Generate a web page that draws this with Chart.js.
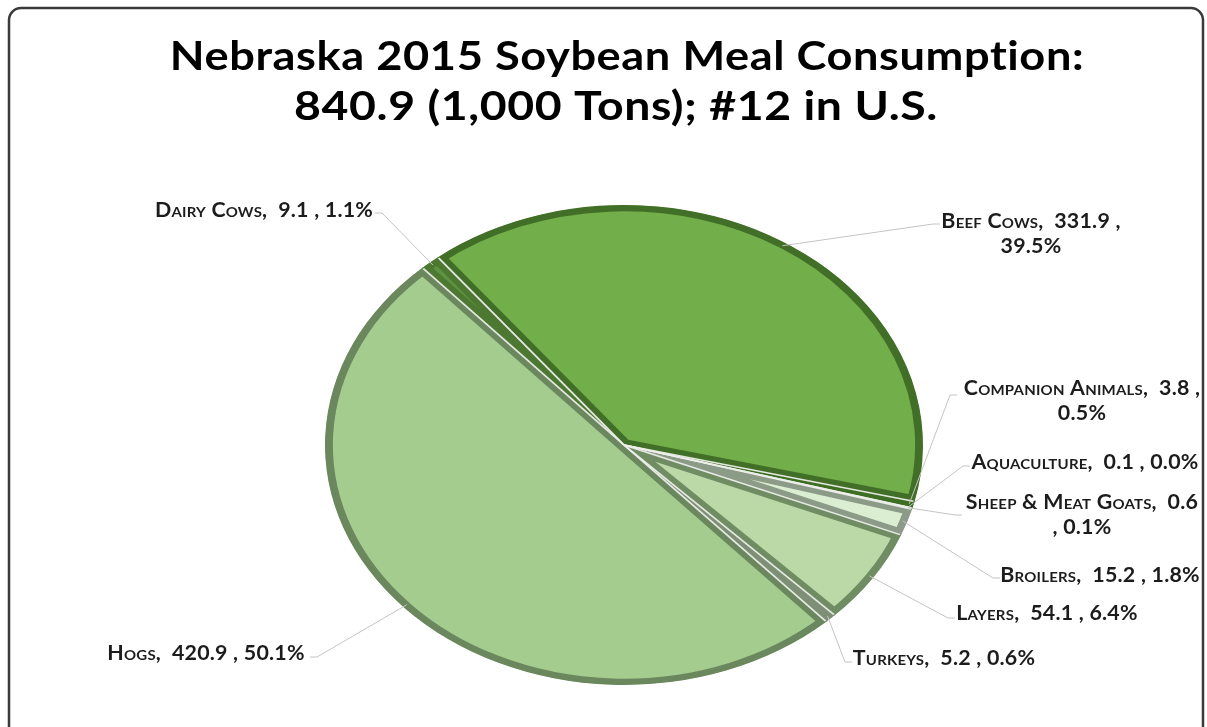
<!DOCTYPE html>
<html>
<head>
<meta charset="utf-8">
<script src="https://cdn.jsdelivr.net/npm/chart.js@4.4.1/dist/chart.umd.min.js"></script>
<style>
  html, body { margin: 0; padding: 0; background: #ffffff; overflow: hidden; }
  canvas { display: block; }
</style>
</head>
<body>
<canvas id="chart" width="1207" height="727" style="width:1207px;height:727px"></canvas>
<script>
// ---- data ----
const titleLines = ['Nebraska 2015 Soybean Meal Consumption:', '840.9 (1,000 Tons); #12 in U.S.'];
const categories = ['Beef Cows', 'Companion Animals', 'Aquaculture', 'Sheep & Meat Goats',
                    'Broilers', 'Layers', 'Turkeys', 'Hogs', 'Dairy Cows'];
const consumption = [331.9, 3.8, 0.1, 0.6, 15.2, 54.1, 5.2, 420.9, 9.1]; // 1,000 tons

// ---- styling ----
const sliceFill   = ['#72AE4A', '#4F8A2E', '#A9D18E', '#C5E0B4', '#DCEED2', '#BAD9A6', '#9FBA8E', '#A5CC8F', '#5E9140'];
const sliceBevel  = ['#426F27', '#3E6E22', '#7E9A70', '#8C9C86', '#8C9B87', '#6F8C63', '#7D8F74', '#6A875D', '#4C7832'];
const stretchX = 299 / 240;      // pie drawn as an ellipse

// label placement: text centre, first row, line break style, leader end point
const labelLayout = [
  { cx: 1031, y: 222, br: 'pct',   ex: 940,  ey: 224 },  // Beef Cows
  { cx: 1082, y: 389, br: 'pct',   ex: 957,  ey: 395 },  // Companion Animals
  { cx: 1085, y: 463, br: null,    ex: 970,  ey: 466 },  // Aquaculture
  { cx: 1082, y: 503, br: 'comma', ex: 962,  ey: 515 },  // Sheep & Meat Goats
  { cx: 1100, y: 576, br: null,    ex: 1000, ey: 578 },  // Broilers
  { cx: 1047, y: 614, br: null,    ex: 955,  ey: 618 },  // Layers
  { cx: 944,  y: 659, br: null,    ex: 852,  ey: 662 },  // Turkeys
  { cx: 206,  y: 654, br: null,    ex: 310,  ey: 657 },  // Hogs
  { cx: 264,  y: 211, br: null,    ex: 375,  ey: 213 }   // Dairy Cows
];

const total = consumption.reduce((a, b) => a + b, 0);

function drawText(ctx, str, x, y, font, color, sx, spacing) {
  ctx.save();
  ctx.font = font;
  ctx.fillStyle = color;
  ctx.textAlign = 'center';
  ctx.textBaseline = 'middle';
  if ('letterSpacing' in ctx) ctx.letterSpacing = spacing || '0px';
  ctx.translate(x, y);
  ctx.scale(sx, 1);
  ctx.fillText(str, 0, 0);
  ctx.restore();
}

// rounded outer frame
const framePlugin = {
  id: 'frame',
  beforeDraw(chart) {
    const ctx = chart.ctx;
    const x0 = 9, y0 = 8, x1 = 1203, y1 = 740, r = 12;
    ctx.save();
    ctx.beginPath();
    ctx.moveTo(x0 + r, y0);
    ctx.lineTo(x1 - r, y0);
    ctx.arcTo(x1, y0, x1, y0 + r, r);
    ctx.lineTo(x1, y1 - r);
    ctx.arcTo(x1, y1, x1 - r, y1, r);
    ctx.lineTo(x0 + r, y1);
    ctx.arcTo(x0, y1, x0, y1 - r, r);
    ctx.lineTo(x0, y0 + r);
    ctx.arcTo(x0, y0, x0 + r, y0, r);
    ctx.closePath();
    ctx.lineWidth = 2.5;
    ctx.strokeStyle = '#3a3a3a';
    ctx.stroke();
    ctx.restore();
  }
};

// squash the round pie into an ellipse and add light seams between slices
const ellipsePlugin = {
  id: 'ellipse',
  beforeDatasetsDraw(chart) {
    const a = chart.getDatasetMeta(0).data[0];
    const ctx = chart.ctx;
    ctx.save();
    ctx.translate(a.x, a.y);
    ctx.scale(stretchX, 1);
    ctx.translate(-a.x, -a.y);
  },
  afterDatasetsDraw(chart) {
    const ctx = chart.ctx;
    const arcs = chart.getDatasetMeta(0).data;
    ctx.lineWidth = 1.6;
    ctx.strokeStyle = 'rgba(236,238,234,0.95)';
    arcs.forEach(arc => {
      const r = arc.outerRadius - 1;
      ctx.beginPath();
      ctx.moveTo(arc.x, arc.y);
      ctx.lineTo(arc.x + Math.cos(arc.startAngle) * r, arc.y + Math.sin(arc.startAngle) * r);
      ctx.stroke();
    });
    ctx.restore();
  }
};

// category, value and share labels with leader lines
const labelPlugin = {
  id: 'sliceLabels',
  afterDraw(chart) {
    const ctx = chart.ctx;
    const arcs = chart.getDatasetMeta(0).data;
    const font = 'small-caps bold 20px Lato';
    arcs.forEach((arc, i) => {
      const L = labelLayout[i];
      const mid = (arc.startAngle + arc.endAngle) / 2;
      const r = arc.outerRadius * 0.985;
      const px = arc.x + Math.cos(mid) * r * stretchX;
      const py = arc.y + Math.sin(mid) * r;
      const dir = L.ex > px ? -1 : 1;
      ctx.save();
      ctx.strokeStyle = '#c4c4c4';
      ctx.lineWidth = 1;
      ctx.beginPath();
      ctx.moveTo(px, py);
      ctx.lineTo(L.ex + dir * 7, L.ey);
      ctx.lineTo(L.ex, L.ey);
      ctx.stroke();
      ctx.restore();

      const val = consumption[i].toFixed(1);
      const pct = (consumption[i] / total * 100).toFixed(1) + '%';
      let lines;
      if (L.br === 'pct') lines = [categories[i] + ',  ' + val + ' ,', pct];
      else if (L.br === 'comma') lines = [categories[i] + ',  ' + val, ', ' + pct];
      else lines = [categories[i] + ',  ' + val + ' , ' + pct];
      lines.forEach((s, k) => drawText(ctx, s, L.cx, L.y + k * 25, font, '#1c1c1c', 1.07, '0.2px'));
    });
  }
};

const titlePlugin = {
  id: 'twoLineTitle',
  afterDraw(chart) {
    const ctx = chart.ctx;
    drawText(ctx, titleLines[0], 627, 57, 'bold 40px Lato', '#000000', 1.13, '0.5px');
    drawText(ctx, titleLines[1], 616, 107, 'bold 40px Lato', '#000000', 1.16, '0.5px');
  }
};

new Chart(document.getElementById('chart'), {
  type: 'pie',
  data: {
    labels: categories,
    datasets: [{
      data: consumption,
      backgroundColor: sliceFill,
      borderColor: sliceBevel,
      borderWidth: 6,
      borderAlign: 'inner',
      hoverOffset: 0
    }]
  },
  options: {
    responsive: false,
    animation: false,
    events: [],
    rotation: 321.5,
    radius: 240,
    layout: { padding: { left: 141, right: 100, top: 183, bottom: 20 } },
    plugins: {
      legend: { display: false },
      tooltip: { enabled: false },
      title: { display: false }
    }
  },
  plugins: [framePlugin, ellipsePlugin, labelPlugin, titlePlugin]
});
</script>
</body>
</html>
